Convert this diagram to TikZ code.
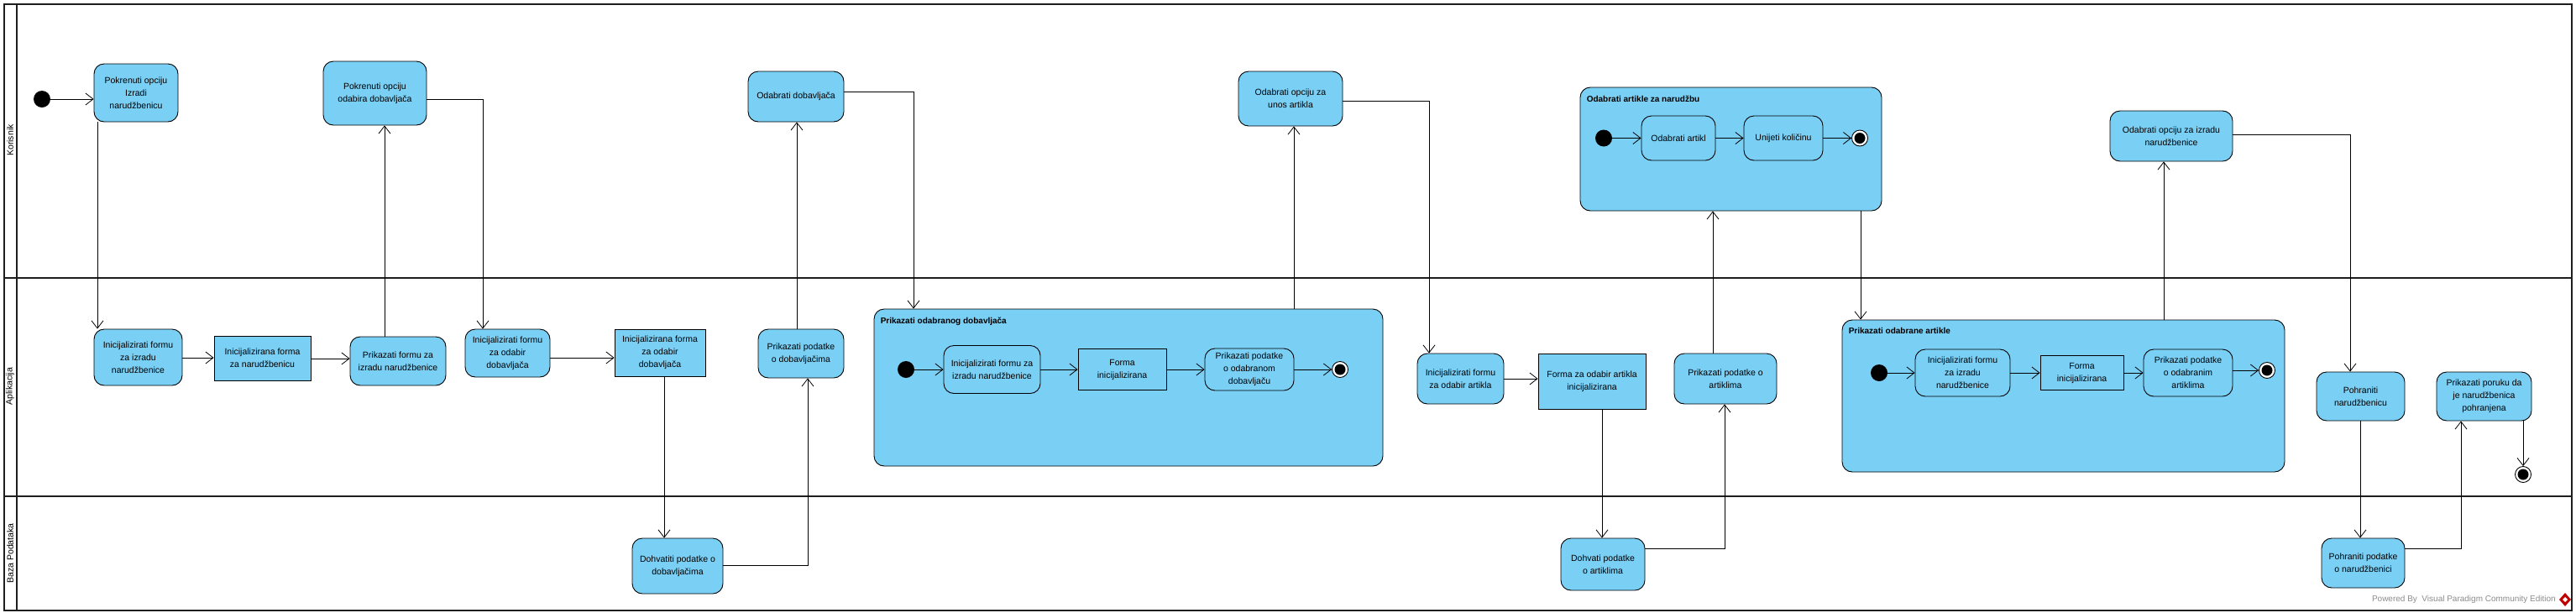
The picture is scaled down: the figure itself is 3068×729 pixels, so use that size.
\documentclass[tikz,border=0pt]{standalone}
\usepackage{fontspec}
\setmainfont{Liberation Sans}
\usetikzlibrary{arrows.meta,calc}
\definecolor{vpblue}{RGB}{122,207,245}
\definecolor{framecol}{RGB}{30,30,30}
\definecolor{wmgrey}{RGB}{140,140,140}
\begin{document}
\begin{tikzpicture}[x=1pt,y=-1pt,
  txt/.style={font=\fontsize{10.5}{15}\selectfont},
  act/.style={txt, draw, fill=vpblue, rounded corners=12pt, line width=0.9pt, align=center, inner sep=2pt},
  obj/.style={txt, draw, fill=vpblue, line width=0.9pt, align=center, inner sep=2pt},
  comp/.style={draw, fill=vpblue, rounded corners=12pt, line width=0.9pt, inner sep=0pt},
  ttl/.style={anchor=west, inner sep=0pt, font=\bfseries\fontsize{10}{12}\selectfont},
  initst/.style={circle, fill=black, minimum size=20pt, inner sep=0pt},
  finalst/.style={circle, draw, fill=white, line width=0.9pt, minimum size=19pt, inner sep=0pt,
    path picture={\fill[black] (path picture bounding box.center) circle (6.5pt);}},
  arr/.style={-{Straight Barb[length=9pt,width=14pt]}, line width=0.8pt},
  lane/.style={line width=2.2pt, draw=framecol},
  lanelbl/.style={rotate=90, inner sep=0pt, font=\fontsize{10.5}{13}\selectfont}
]
\useasboundingbox (0,0) rectangle (3068,729);
\fill[white] (0,0) rectangle (3068,729);

% ---------- swimlanes ----------
\draw[lane] (5,5) rectangle (3063,727);
\draw[lane] (20,5) -- (20,727);
\draw[lane] (5,331) -- (3063,331);
\draw[lane] (5,591) -- (3063,591);
\node[lanelbl] (L1) at (12,167) {Korisnik};
\node[lanelbl] (L2) at (12,460) {Aplikacija};
\node[lanelbl] (L3) at (12,659) {Baza Podataka};

% ---------- lane Korisnik ----------
\node[initst] (init1) at (50,118) {};
\node[act, minimum width=100pt, minimum height=69pt] (A1) at (162,110.5) {Pokrenuti opciju\\Izradi\\narudžbenicu};
\node[act, minimum width=123pt, minimum height=76pt] (A2) at (446.5,111) {Pokrenuti opciju\\odabira dobavljača};
\node[act, minimum width=114pt, minimum height=60pt] (A3) at (948,115) {Odabrati dobavljača};
\node[act, minimum width=124pt, minimum height=65pt] (A4) at (1537,117.5) {Odabrati opciju za\\unos artikla};

\node[comp, minimum width=359pt, minimum height=147pt] (C2) at (2061.5,177.5) {};
\node[ttl] (C2t) at ([xshift=8pt,yshift=-14pt]C2.north west) {Odabrati artikle za narudžbu};
\node[initst] (c2i) at (1910,164.5) {};
\node[act, minimum width=88pt, minimum height=53pt] (c2s1) at (1999,164.5) {Odabrati artikl};
\node[act, minimum width=94pt, minimum height=53pt] (c2s2) at (2124,164.5) {Unijeti količinu};
\node[finalst] (c2f) at (2215,164.5) {};

\node[act, minimum width=146pt, minimum height=60pt] (A5) at (2586,162) {Odabrati opciju za izradu\\narudžbenice};

% ---------- lane Aplikacija ----------
\node[act, minimum width=105pt, minimum height=67pt] (B1) at (164.5,425.5) {Inicijalizirati formu\\za izradu\\narudžbenice};
\node[obj, minimum width=115pt, minimum height=53pt] (B2) at (312.5,426.5) {Inicijalizirana forma\\za narudžbenicu};
\node[act, minimum width=114pt, minimum height=58pt] (B3) at (474,430) {Prikazati formu za\\izradu narudžbenice};
\node[act, minimum width=101pt, minimum height=57pt] (B4) at (604.5,420.5) {Inicijalizirati formu\\za odabir\\dobavljača};
\node[obj, minimum width=108pt, minimum height=56pt] (B5) at (786,420) {Inicijalizirana forma\\za odabir\\dobavljača};
\node[act, minimum width=102pt, minimum height=58pt] (B6) at (954,421) {Prikazati podatke\\o dobavljačima};

\node[comp, minimum width=606pt, minimum height=187pt] (C1) at (1344,461.5) {};
\node[ttl] (C1t) at ([xshift=8pt,yshift=-15pt]C1.north west) {Prikazati odabranog dobavljača};
\node[initst] (c1i) at (1079,440) {};
\node[act, minimum width=115pt, minimum height=57pt] (c1s1) at (1181.5,440) {Inicijalizirati formu za\\izradu narudžbenice};
\node[obj, minimum width=105pt, minimum height=49pt] (c1s2) at (1336.5,440) {Forma\\inicijalizirana};
\node[act, minimum width=106pt, minimum height=50pt] (c1s3) at (1488,440) {Prikazati podatke\\o odabranom\\dobavljaču};
\node[finalst] (c1f) at (1596,440) {};

\node[act, minimum width=103pt, minimum height=60pt] (B8) at (1739.5,451) {Inicijalizirati formu\\za odabir artikla};
\node[obj, minimum width=128pt, minimum height=66pt] (B9) at (1896,454) {Forma za odabir artikla\\inicijalizirana};
\node[act, minimum width=122pt, minimum height=60pt] (B10) at (2055,451) {Prikazati podatke o\\artiklima};

\node[comp, minimum width=527pt, minimum height=181pt] (C3) at (2457.5,471.5) {};
\node[ttl] (C3t) at ([xshift=8pt,yshift=-13pt]C3.north west) {Prikazati odabrane artikle};
\node[initst] (c3i) at (2238,444) {};
\node[act, minimum width=113pt, minimum height=56pt] (c3s1) at (2337.5,444) {Inicijalizirati formu\\za izradu\\narudžbenice};
\node[obj, minimum width=99pt, minimum height=41pt] (c3s2) at (2479.5,444) {Forma\\inicijalizirana};
\node[act, minimum width=106pt, minimum height=56pt] (c3s3) at (2606,444) {Prikazati podatke\\o odabranim\\artiklima};
\node[finalst] (c3f) at (2700,441) {};

\node[act, minimum width=105pt, minimum height=58pt] (B11) at (2811.5,472) {Pohraniti\\narudžbenicu};
\node[act, minimum width=113pt, minimum height=58pt] (B12) at (2958.5,472) {Prikazati poruku da\\je narudžbenica\\pohranjena};
\node[finalst] (fin) at (3005,565) {};

% ---------- lane Baza Podataka ----------
\node[act, minimum width=108pt, minimum height=66pt] (D1) at (807,674) {Dohvatiti podatke o\\dobavljačima};
\node[act, minimum width=100pt, minimum height=62pt] (D2) at (1909,672) {Dohvati podatke\\o artiklima};
\node[act, minimum width=99pt, minimum height=59pt] (D3) at (2814.5,670.5) {Pohraniti podatke\\o narudžbenici};

% ---------- connectors ----------
\draw[arr] (init1) -- (A1.west |- init1);
\draw[arr] (A1.south -| 116,0) -- (B1.north -| 116,0);
\draw[arr] (B1.east |- 0,426) -- (B2.west |- 0,426);
\draw[arr] (B2.east |- 0,427) -- (B3.west |- 0,427);
\draw[arr] (B3.north -| 458,0) -- (A2.south -| 458,0);
\draw[arr] (A2.east |- 0,118) -| (B4.north -| 575,0);
\draw[arr] (B4.east |- 0,426) -- (B5.west |- 0,426);
\draw[arr] (B5.south -| 791,0) -- (D1.north -| 791,0);
\draw[arr] (D1.east |- 0,673) -| (B6.south -| 962,0);
\draw[arr] (B6.north -| 949,0) -- (A3.south -| 949,0);
\draw[arr] (A3.east |- 0,109) -| (C1.north -| 1088,0);
\draw[arr] (C1.north -| 1541,0) -- (A4.south -| 1541,0);
\draw[arr] (A4.east |- 0,120) -| (B8.north -| 1702,0);
\draw[arr] (B8.east |- 0,451) -- (B9.west |- 0,451);
\draw[arr] (B9.south -| 1908,0) -- (D2.north -| 1908,0);
\draw[arr] (D2.east |- 0,653) -| (B10.south -| 2054,0);
\draw[arr] (B10.north -| 2040,0) -- (C2.south -| 2040,0);
\draw[arr] (C2.south -| 2216,0) -- (C3.north -| 2216,0);
\draw[arr] (C3.north -| 2577,0) -- (A5.south -| 2577,0);
\draw[arr] (A5.east |- 0,160) -| (B11.north -| 2799,0);
\draw[arr] (B11.south -| 2811,0) -- (D3.north -| 2811,0);
\draw[arr] (D3.east |- 0,653) -| (B12.south -| 2931,0);
\draw[arr] (B12.south -| 3005,0) -- (fin);

% inner flows
\draw[arr] (c1i) -- (c1s1);
\draw[arr] (c1s1) -- (c1s2);
\draw[arr] (c1s2) -- (c1s3);
\draw[arr] (c1s3) -- (c1f);
\draw[arr] (c2i) -- (c2s1);
\draw[arr] (c2s1) -- (c2s2);
\draw[arr] (c2s2) -- (c2f);
\draw[arr] (c3i) -- (c3s1);
\draw[arr] (c3s1) -- (c3s2);
\draw[arr] (c3s2) -- (c3s3);
\draw[arr] (c3s3.east |- c3f) -- (c3f);

% ---------- watermark ----------
\node[anchor=east, inner sep=0pt, text=wmgrey, font=\fontsize{10}{12}\selectfont] (wm) at (3044,714) {Powered By\ \ Visual Paradigm Community Edition};
\fill[red!75!black] (3055,706) -- (3062,714) -- (3055,722) -- (3048,714) -- cycle;
\fill[white] (3055,711) -- (3058,714) -- (3055,717) -- (3052,714) -- cycle;
\end{tikzpicture}
\end{document}
